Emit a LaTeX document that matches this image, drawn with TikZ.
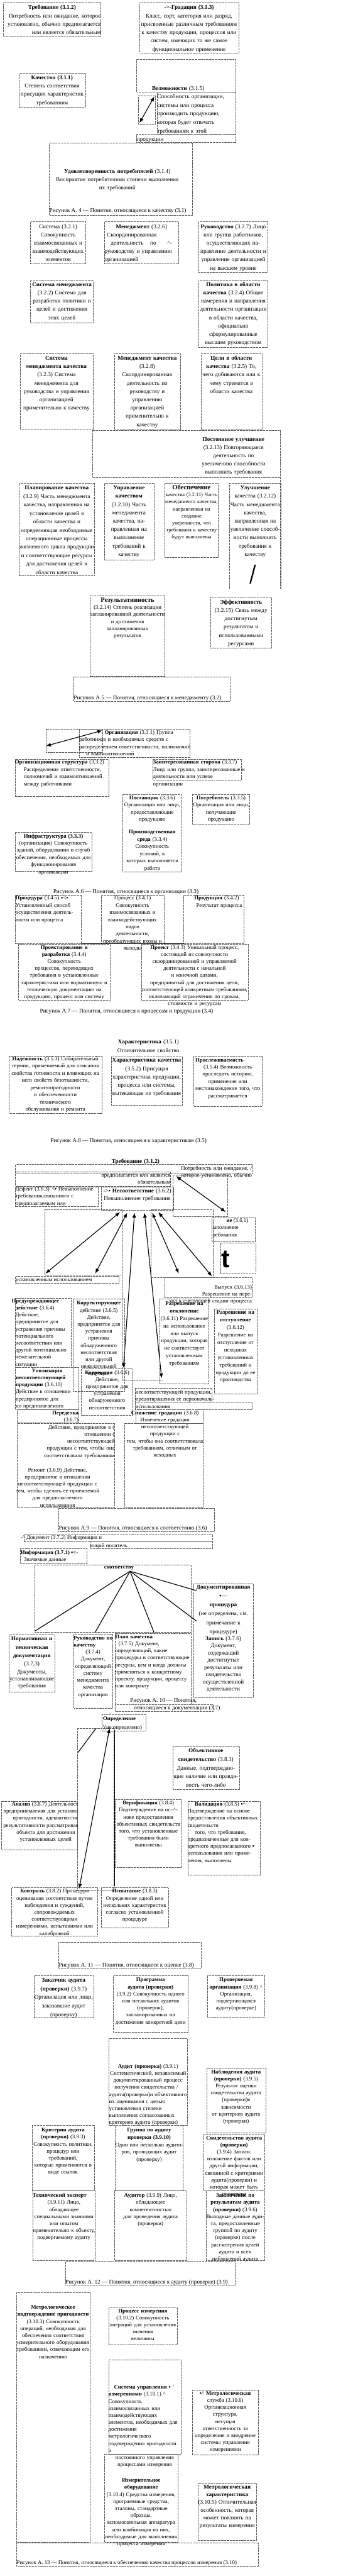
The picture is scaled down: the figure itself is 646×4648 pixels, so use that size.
\documentclass[tikz,border=0pt]{standalone}
\usepackage{fontspec}
\setmainfont{Liberation Serif}
\newfontfamily\glyphfont{Liberation Sans}
\usepackage{tikz}
\usetikzlibrary{arrows.meta}
\newcommand{\fullj}[1]{\makebox[\linewidth][s]{#1}}
\newcommand{\fullc}[1]{\makebox[\linewidth]{#1}}
\newcommand{\fulll}[1]{\makebox[\linewidth][l]{#1}}

\begin{document}
\begin{tikzpicture}[x=1pt, y=-1pt,
  frame/.style={draw=black!65, densely dotted, line width=0.45pt},
  tn/.style={inner sep=0pt, anchor=base, font=\fontsize{10.5}{15}\selectfont},
  tm/.style={inner sep=0pt, anchor=base, font=\fontsize{10}{13}\selectfont},
  td/.style={inner sep=0pt, anchor=base, font=\fontsize{10}{12.7}\selectfont},
  figcap/.style={inner sep=0pt, anchor=base west, font=\fontsize{10.5}{13}\selectfont},
  link/.style={{Latex[length=9pt,width=7pt]}-{Latex[length=9pt,width=7pt]}, line width=1.3pt},
  bar/.style={line width=1.3pt}]
  \useasboundingbox[fill=white](0,0)rectangle(646,4648);

  %--- Figure A.4: quality ---
  \draw[frame](6,5)rectangle(182,65);
  \node[tn, text width=176pt, align=right] (treb) at (94,17)
    {\fullc{\textbf{Требование (3.1.2)}}\\ Потребность или ожидание, которое\\
     установлено, обычно предполагается\\ или является обязательным};
  \draw[frame](252,5)rectangle(431,96);
  \node[tn, text width=179pt, align=center] (grad) at (341.5,17)
    {\textbf{->-Градация (3.1.3)}\\ Класс, сорт, категория или разряд,\\ присвоенные различным требованиям\\
     к качеству продукции, процессов или\\ систем, имеющих то же самое\\ функциональное применение};
  \draw[frame](34,132)rectangle(154,193);
  \node[tn, text width=120pt, align=center] (kach) at (94,143.5)
    {\textbf{Качество (3.1.1)}\\ Степень соответствия\\ присущих характеристик\\ требованиям};
  \draw[frame](247,107)rectangle(426,166);
  \draw[frame](284,166)rectangle(426,242);
  \draw[frame](247,242)rectangle(426,257);
  \draw[frame](250,173)rectangle(280,224);
  \node[tn, text width=150pt, align=center] (vozm) at (322,162.5) {\textbf{Возможности} (3.1.5)};
  \node[tn, text width=142pt, align=left, font=\fontsize{10.5}{15.5}\selectfont] (vozm-txt) at (355,177.5)
    {Способность организации,\\ системы или процесса\\ производить продукцию,\\ которая будет отвечать\\ требованиям к этой};
  \node[tn, anchor=base west] (vozm-end) at (247,254.5) {продукции};
  \coordinate (vz-lo) at (252,222);
  \coordinate (vz-hi) at (279,174);
  \draw[link](vz-lo)--(vz-hi);
  \draw[frame](89,258)rectangle(348,388);
  \node[tn, text width=250pt, align=center] (udov) at (212,312.5)
    {\textbf{Удовлетворенность потребителей} (3.1.4)\\ Восприятие потребителями степени выполнения\\ их требований};
  \node[figcap] (cap-a4) at (89,383.5) {Рисунок А. 4 — Понятия, относящиеся к качеству (3.1)};

  %--- Figure A.5: management ---
  \draw[frame](55,400)rectangle(155,476);
  \node[tn, text width=100pt, align=center] (sist) at (105,412)
    {Система (3.2.1)\\ Совокупность\\ взаимосвязанных и\\ взаимодействующих\\ элементов};
  \draw[frame](189,400)rectangle(322,476);
  \node[tn, text width=133pt, align=center] (men) at (255.5,412)
    {\textbf{Менеджмент} (3.2.6)\\ \fulll{\hspace*{4pt}Скоординированная}\\ деятельность\hspace{12pt}по\hspace{20pt}\textasciicircum-\\
     \fullj{руководству и управлению}\\ \fulll{организацией}};
  \draw[frame](359,400)rectangle(484,492);
  \node[tn, text width=125pt, align=center] (ruk) at (421.5,412)
    {\textbf{Руководство} (3.2.7) Лицо\\ или группа работников,\\ осуществляющих на-\\ правление деятельности и\\
     управление организацией\\ на высшем уровне};
  \draw[frame](55,506)rectangle(168,582);
  \node[tn, text width=113pt, align=center] (sm) at (112,516.5)
    {\textbf{Система менеджмента}\\ (3.2.2) Система для\\ разработки политики и\\ целей и достижения\\ этих целей};
  \draw[frame](359,506)rectangle(484,627);
  \node[tn, text width=125pt, align=center] (polit) at (421.5,516.5)
    {\textbf{Политика в области}\\ \textbf{качества} (3.2.4) Общие\\ намерения и направления\\ деятельности организации\\
     в области качества,\\ официально\\ сформулированные\\ высшим руководством};
  \draw[frame](37,638)rectangle(168,775);
  \node[tn, text width=131pt, align=center] (smk) at (102,649.5)
    {\textbf{Система}\\ \textbf{менеджмента качества}\\ (3.2.3) Система\\ менеджмента для\\ руководства и управления\\
     организацией\\ применительно к качеству};
  \draw[frame](207,638)rectangle(326,775);
  \node[tn, text width=119pt, align=center] (mk) at (266,649.5)
    {\textbf{Менеджмент качества}\\ (3.2.8)\\ Скоординированная\\ деятельность по\\ руководству и\\ управлению\\
     организацией\\ применительно к\\ качеству};
  \draw[frame](363,638)rectangle(474,775);
  \node[tn, text width=111pt, align=center] (celi) at (418,649.5)
    {\textbf{Цели в области}\\ \textbf{качества} (3.2.5) То,\\ чего добиваются или к\\ чему стремятся в\\ области качества};
  \draw[frame](167,776)rectangle(506,861);
  \draw[frame](506,861)--(506,1062);
  \node[tn, text width=125pt, align=center] (post) at (422,795.5)
    {\textbf{Постоянное улучшение}\\ (3.2.13) Повторяющаяся\\ деятельность по\\ увеличению способности\\ выполнить требования};
  \draw[frame](34,872)rectangle(171,1039);
  \node[tn, text width=137pt, align=center, font=\fontsize{10.5}{15.3}\selectfont] (plan) at (102.5,883.5)
    {\textbf{Планирование качества}\\ (3.2.9) Часть менеджмента\\ качества, направленная на\\ установление целей в\\
     области качества и\\ определяющая необходимые\\ операционные процессы\\ жизненного цикла продукции\\
     и соответствующие ресурсы\\ для достижения целей в\\ области качества};
  \draw[frame](189,872)rectangle(278,1010);
  \node[tn, text width=89pt, align=center] (upr) at (233,883.5)
    {\textbf{Управление}\\ \textbf{качеством}\\ (3.2.10) Часть\\ менеджмента\\ качества, на-\\ правленная на\\
     выполнение\\ требований к\\ качеству};
  \draw[frame](298,872)rectangle(394,1006);
  \node[td, text width=96pt, align=center, font=\fontsize{9.5}{12.7}\selectfont] (obesp) at (346,883.5)
    {\textbf{\large Обеспечение}\\ качества (3.2.11) Часть\\ менеджмента качества,\\ направленная на\\ создание\\
     уверенности, что\\ требования к качеству\\ будут выполнены};
  \draw[frame](414,1062)--(414,872)--(508,872)--(508,1062);
  \node[tn, text width=94pt, align=center] (ulu) at (461,883.5)
    {\textbf{Улучшение}\\ качества (3.2.12)\\ Часть менеджмента\\ качества,\\ направленная на\\ увеличение способ-\\
     ности выполнить\\ требования к\\ качеству};
  \draw[line width=2.6pt](461,1019)--(452,1053);
  \draw[frame](163,1075)rectangle(298,1220);
  \node[td, text width=135pt, align=center] (rez) at (230.5,1086.5)
    {\textbf{\large Результативность}\\ (3.2.14) Степень реализации\\ запланированной деятельности\\
     и достижения запланированных\\ результатов};
  \draw[frame](380,1077)rectangle(491,1169);
  \node[tn, text width=111pt, align=center] (eff) at (435.5,1089.5)
    {\textbf{Эффективность}\\ (3.2.15) Связь между\\ достигнутым\\ результатом и\\ использованными\\ ресурсами};
  \draw[frame](133,1221)rectangle(415,1265);
  \node[figcap] (cap-a5) at (133,1262.5) {Рисунок А.5 — Понятия, относящиеся к менеджменту (3.2)};

  %--- Figure A.6: organization ---
  \draw[frame](83,1315)rectangle(185,1357);
  \draw[frame](143,1315)rectangle(343,1367);
  \node[tm, text width=200pt, align=left] (org) at (243,1324.5)
    {\hspace*{46pt}\makebox[154pt][s]{\textbf{Организация} (3.3.1) Группа}\\
     \fullj{работников и необходимых средств с}\\ \fullj{распределением ответственности, полномочий}\\
     \hspace*{13pt}и взаимоотношений};
  \coordinate (org-lo) at (83,1346);
  \coordinate (org-hi) at (185,1318);
  \draw[link](org-lo)--(org-hi);
  \draw[frame](27,1370)rectangle(197,1437);
  \node[tm, text width=168pt, align=left] (orgstr) at (111,1378.5)
    {\fullj{\textbf{Организационная структура} (3.3.2)}\\
     \hspace*{16pt}\makebox[151pt][s]{Распределение ответственности,}\\
     \hspace*{16pt}\makebox[151pt][s]{полномочий и взаимоотношений}\\ \hspace*{16pt}между работниками};
  \draw[frame](276,1370)rectangle(436,1407);
  \node[tm, text width=159pt, align=left] (zain) at (356,1378.5)
    {\fullj{\textbf{Заинтересованная сторона} (3.3.7)}\\ \fullj{Лицо или группа, заинтересованные в}\\
     деятельности или успехе организации};
  \draw[frame](222,1433)rectangle(328,1573);
  \node[tm, text width=106pt, align=center] (post-k) at (275,1442.5)
    {\textbf{Поставщик} (3.3.6)\\ Организация или лицо,\\ предоставляющие\\ продукцию\\[10pt]
     \textbf{Производственная}\\ \textbf{среда} (3.3.4)\\ Совокупность условий, в\\ которых выполняется\\ работа};
  \draw[frame](348,1433)rectangle(451,1487);
  \node[tm, text width=103pt, align=center] (potr) at (399.5,1442.5)
    {\textbf{Потребитель} (3.3.5)\\ Организация или лицо,\\ получающие продукцию};
  \draw[frame](27,1502)rectangle(166,1572);
  \node[tm, text width=139pt, align=center] (infra) at (96.5,1511.5)
    {\textbf{Инфраструктура (3.3.3)}\\ (организация) Совокупность\\ зданий, оборудования и служб\\
     обеспечения, необходимых для\\ функционирования организации};
  \node[figcap] (cap-a6) at (96,1611.5) {Рисунок А.6 — Понятия, относящиеся к организации (3.3)};

  %--- Figure A.7: process and product ---
  \draw[frame](28,1615)rectangle(147,1702);
  \node[tm, text width=119pt, align=left] (proc) at (87.5,1623.5)
    {\fullj{\textbf{Процедура} (3.4.5) ▪<▪}\\ \fullj{Установленный способ}\\ \fullj{осуществления деятель-}\\
     ности или процесса};
  \draw[frame](183,1615)rectangle(296,1702);
  \node[tm, text width=113pt, align=center] (process) at (239.5,1623.5)
    {Процесс (3.4.1)\\ Совокупность\\ взаимосвязанных и\\ взаимодействующих видов\\ деятельности,\\
     преобразующих входы и\\ выходы};
  \draw[frame](332,1615)rectangle(441,1702);
  \draw[line width=0.6pt](147,1702)--(332,1702);
  \node[tm, text width=90pt, align=center] (prod) at (396,1623.5)
    {\fullj{\textbf{Продукция} (3.4.2)}\\ Результат процесса};
  \draw[frame](33,1703)rectangle(199,1804);
  \node[td, text width=166pt, align=center] (proekt-r) at (116,1712.5)
    {\textbf{Проектирование и разработка} (3.4.4)\\ Совокупность процессов, переводящих\\ требования в установленные\\
     характеристики или нормативную и\\ техническую документацию на\\ продукцию, процесс или систему};
  \draw[frame](255,1703)rectangle(448,1804);
  \node[td, text width=193pt, align=center] (proekt) at (351.5,1712.5)
    {\textbf{Проект} (3.4.3) Уникальный процесс,\\ состоящий из совокупности\\ скоординированной и управляемой\\
     деятельности с начальной и конечной датами,\\ предпринятый для достижения цели,\\
     соответствующей конкретным требованиям,\\ включающий ограничения по срокам,\\ стоимости и ресурсам};
  \node[figcap] (cap-a7) at (72,1827.5) {Рисунок А.7 — Понятия, относящиеся к процессам и продукции (3.4)};

  %--- Figure A.8: characteristics ---
  \node[tn, text width=150pt, align=center] (har) at (268,1883.5)
    {\textbf{Характеристика} (3.5.1)\\ Отличительное свойство};
  \draw[frame](16,1905)rectangle(184,2009);
  \node[tm, text width=168pt, align=center] (nad) at (100,1913.5)
    {\textbf{Надежность} (3.5.3) Собирательный\\ термин, применяемый для описания\\ свойства готовности и влияющих на\\
     него свойств безотказности,\\ ремонтопригодности и обеспеченности\\ технического обслуживания и ремонта};
  \draw[frame](201,1907)rectangle(329,1994);
  \node[tn, text width=128pt, align=center] (harkach) at (265,1916.5)
    {\textbf{Характеристика качества}\\ (3.5.2) Присущая\\ характеристика продукции,\\ процесса или системы,\\
     вытекающая из требования};
  \draw[frame](350,1905)rectangle(473,1996);
  \node[tm, text width=123pt, align=center] (prosl) at (411.5,1915.5)
    {\fulll{\hspace*{3pt}\textbf{Прослеживаемость}}\\ (3.5.4) Возможность\\ проследить историю,\\ применение или\\
     местонахождение того, что\\ рассматривается};
  \node[figcap] (cap-a8) at (91,2061.5) {Рисунок А.8 — Понятия, относящиеся к характеристикам (3.5)};

  %--- Figure A.9: conformity ---
  \node[tn, text width=120pt, align=center] (treb2) at (245,2098.5) {\textbf{Требование (3.1.2)}};
  \draw[frame](28,2101)rectangle(456,2118);
  \node[td, text width=250pt, align=right] (treb2-a) at (330,2111.5)
    {Потребность или ожидание, \textit{/} которое установлено, обычно};
  \draw[frame](28,2114)rectangle(308,2140);
  \node[tm, text width=200pt, align=right] (treb2-b) at (208,2123.5)
    {предполагается или является\\ обязательным};
  \draw[frame](312,2120)rectangle(411,2195);
  \coordinate (sootv-a) at (318,2122);
  \coordinate (sootv-b) at (408,2187);
  \draw[link](sootv-a)--(sootv-b);
  \draw[frame](28,2142)rectangle(177,2177);
  \node[tm, text width=149pt, align=left] (def) at (102.5,2148.5)
    {\fullj{Дефект (3.6.3) <▪ Невыполнение}\\ \fullj{требования,связанного с}\\ \fullj{предполагаемым или}};
  \draw[frame](183,2142)rectangle(313,2184);
  \node[tn, text width=130pt, align=center, font=\fontsize{10.5}{14}\selectfont] (nes) at (248,2151.5)
    {->▪ \textbf{Несоответствие} (3.6.2)\\ Невыполнение требования};
  \draw[frame](81,2182)rectangle(220,2300);
  \draw[frame](273,2182)rectangle(385,2305);
  \draw[frame](383,2197)rectangle(461,2240);
  \node[tm, anchor=base west] (sootv-1) at (409,2205.5) {\textbf{ие} (3.6.1)};
  \node[tm, anchor=base west] (sootv-2) at (384,2217.5) {ыполнение};
  \node[tm, anchor=base west] (sootv-3) at (384,2231.5) {ребования};
  \draw[frame](398,2243)rectangle(462,2298);
  \node[anchor=base west, inner sep=0pt, font=\glyphfont\bfseries\fontsize{46}{46}\selectfont] (tglyph) at (400,2287) {t};
  \coordinate (nes-1) at (217,2187);  \coordinate (fan-1) at (82,2298);
  \coordinate (nes-2) at (230,2188);  \coordinate (fan-2) at (172,2298);
  \coordinate (nes-3) at (243,2188);  \coordinate (fan-3) at (223,2468);
  \coordinate (nes-4) at (261,2188);  \coordinate (fan-4) at (292,2487);
  \coordinate (nes-5) at (275,2188);  \coordinate (fan-5) at (323,2298);
  \coordinate (nes-6) at (286,2187);  \coordinate (fan-6) at (383,2303);
  \foreach \k in {1,...,6}
    \draw[link](nes-\k)--(fan-\k);
  \draw[frame](28,2303)rectangle(215,2315);
  \node[tm, anchor=base west] (ustan) at (28,2311.5) {установленным использованием};
  \draw[frame](297,2305)rectangle(455,2341);
  \node[td, text width=158pt, align=right] (vyp) at (376,2325.5)
    {Выпуск (3.6.13) Разрешение на пере-\\ ход к следующей стадии процесса};
  \draw[frame](220,2300)--(220,2490)--(293,2490);
  \draw[frame](28,2342)rectangle(128,2467);
  \node[td, text width=107pt, align=left] (pred) at (74.5,2350.5)
    {\textbf{Предупреждающее}\\ \hspace*{7pt}\textbf{действие} (3.6.4)\\ \hspace*{7pt}Действие,\\ \hspace*{7pt}предпринятое для\\
     \hspace*{7pt}устранения причины\\ \hspace*{7pt}потенциального\\ \hspace*{7pt}несоответствия или\\
     \hspace*{7pt}другой потенциально\\ \hspace*{7pt}нежелательной\\ \hspace*{7pt}ситуации};
  \draw[frame](132,2343)rectangle(225,2510);
  \node[td, text width=93pt, align=center] (korr) at (178.5,2354.5)
    {\textbf{Корректирующее}\\ действие (3.6.5)\\ Действие,\\ предпринятое для\\ устранения\\ причины\\ обнаруженного\\
     несоответствия\\ или другой\\ нежелательной\\ ситуации};
  \draw[frame](28,2467)rectangle(142,2543);
  \node[td, text width=113pt, align=center] (util) at (85,2476.5)
    {\textbf{Утилизация}\\ \fulll{\textbf{несоответствующей}}\\ \fullj{\textbf{продукции} (3.6.10)}\\
     \fullj{Действие в отношении}\\ \fullj{предпринятое для}\\ \fullj{но предполагаемого}};
  \draw[frame](147,2470)rectangle(240,2553);
  \node[td, text width=93pt, align=center] (korrek) at (193.5,2479.5)
    {\textbf{Коррекция} (3.6.6)\\ Действие,\\ предпринятое для\\ устранения\\ обнаруженного\\ несоответствия};
  \draw[frame](289,2343)rectangle(377,2497);
  \node[tn, text width=88pt, align=center, font=\fontsize{10}{13.4}\selectfont] (otkl) at (333,2355.5)
    {\textbf{Разрешение на}\\ \textbf{отклонение}\\ (3.6.11) Разрешение\\ на использование\\ или выпуск\\
     продукции, которая\\ не соответствует\\ установленным\\ требованиям};
  \draw[frame](387,2362)rectangle(464,2515);
  \node[tn, text width=77pt, align=center, font=\fontsize{10}{13.5}\selectfont] (otst) at (425.5,2371.5)
    {\textbf{Разрешение на}\\ \textbf{отступление}\\ (3.6.12)\\ Разрешение на\\ отступление от\\ исходных\\
     установленных\\ требований к\\ продукции до ее\\ производства};
  \draw[frame](244,2505)rectangle(383,2530);
  \draw[frame](244,2530)rectangle(455,2543);
  \node[td, text width=139pt, align=left] (util-b) at (314.5,2515.5)
    {\fullj{несоответствующей продукции,}\\ \fullj{предотвращения ее первоначаль-}\\ использования};
  \draw[frame](31,2543)rectangle(142,2567);
  \node[td, text width=111pt, align=right] (pered) at (86.5,2552.5)
    {\textbf{Переделка}\\ (3.6.7)};
  \draw[frame](31,2568)rectangle(207,2720);
  \node[td, text width=176pt, align=right] (pered-txt) at (119,2578.5)
    {Действие, предпринятое в (\\ отношении (\\ несоответствующей\\ продукции с тем, чтобы она\\
     соответствовала требованиям};
  \node[td, text width=180pt, align=center] (remont) at (104,2655.5)
    {Ремонт (3.6.9) Действие,\\ предпринятое в отношении\\ несоответствующей продукции с\\
     тем, чтобы сделать ее приемлемой\\ для предполагаемого\\ использования};
  \draw[frame](245,2543)rectangle(367,2568);
  \draw[frame](225,2568)rectangle(367,2720);
  \node[td, text width=142pt, align=center] (snizh) at (298,2552.5)
    {\textbf{Снижение градации} (3.6.8)\\ Изменение градации\\ несоответствующей продукции с\\
     тем, чтобы она соответствовала\\ требованиям, отличным от\\ исходных};
  \draw[frame](106,2721)rectangle(387,2763);
  \node[figcap] (cap-a9) at (106,2760.5) {Рисунок А.9 — Понятия, относящиеся к соответствию (3.6)};

  %--- Figure A.10: documentation ---
  \draw[frame](43,2769)rectangle(384,2781);
  \draw[frame](163,2781)rectangle(384,2794);
  \node[tm, anchor=base west] (dok) at (37,2777.5) {-\textasciicircum{} Документ (3.7.2) Информация и};
  \node[tm, anchor=base west] (dok-b) at (163,2791.5) {ющий носитель};
  \draw[frame](37,2794)rectangle(157,2821);
  \node[tm, anchor=base west] (inf) at (37,2804.5) {\textbf{Информация (3.7.1) ▪<-}};
  \node[tm, anchor=base west] (inf-b) at (43,2817.5) {Значимые данные};
  \draw[frame](63,2824)rectangle(345,2945);
  \node[tm, anchor=base west] (sootv-top) at (188,2830.5) {\textbf{соответству}};
  \coordinate (hub) at (235,2835);
  \coordinate (hub-1) at (63,2943);
  \coordinate (hub-2) at (172,2945);
  \coordinate (hub-3) at (278,2945);
  \coordinate (hub-4) at (355,2925);
  \coordinate (hub-5) at (355,2870);
  \foreach \k in {1,...,5}
    \draw[bar](hub)--(hub-\k);
  \draw[frame](16,2950)rectangle(99,3053);
  \node[tn, text width=83pt, align=center] (norm) at (57.5,2960.5)
    {\textbf{Нормативная и}\\ \textbf{техническая}\\ \textbf{документация}\\ (3.7,3) Документы,\\[-3pt]
     устанавливающие\\[-2pt] требования};
  \draw[frame](133,2948)rectangle(203,3082);
  \node[td, text width=70pt, align=center, font=\fontsize{10}{12.75}\selectfont] (rukk) at (168,2958.5)
    {\fullj{\textbf{Руководство по}}\\ \fulll{\textbf{качеству}}\\ (3.7.4)\\ Документ,\\ определяющий\\ систему\\
     менеджмента\\ качества\\ организации};
  \draw[frame](208,2947)rectangle(345,3075);
  \node[td, text width=137pt, align=left] (plank) at (276.5,2956.5)
    {\textbf{План качества}\\ \fullj{\hspace*{6pt}(3.7.5) Документ,}\\ \fullj{определяющий, какие}\\
     \fullj{процедуры и соответствующие}\\ \fullj{ресурсы, кем и когда должны}\\ \fullj{применяться к конкретному}\\
     \fullj{проекту, продукции, процессу}\\ или контракту};
  \node[figcap] (cap-a10) at (235,3071.5) {Рисунок А. 10 — Понятия,};
  \draw[frame](208,3075)rectangle(385,3088);
  \node[figcap] (cap-a10b) at (242,3085) {относящиеся к документации (3.7)};
  \draw[frame](350,2857)rectangle(457,3063);
  \node[tn, text width=107pt, align=center, font=\fontsize{10.5}{16.2}\selectfont] (dokproc) at (403.5,2866.5)
    {\textbf{Документированная} ▪—\\ \textbf{процедура}\\ (не определена, см.\\ примечание к\\ процедуре)};
  \node[tm, text width=107pt, align=center, font=\fontsize{10.5}{13.1}\selectfont] (zap) at (403.5,2959.5)
    {\textbf{Запись} (3.7.6)\\ Документ,\\ содержащий\\ достигнутые\\ результаты или\\ свидетельства\\
     осуществленной\\ деятельности};

  %--- Figure A.11: assessment ---
  \draw[frame](184,3093)rectangle(263,3123);
  \node[tm, anchor=base west] (opr) at (186,3104.5) {\textbf{Определение}};
  \node[tm, anchor=base west] (opr-b) at (185,3119.5) {'(не определено)};
  \draw[frame](140,3118)rectangle(206,3410);
  \coordinate (opr-l1) at (173,3119);  \coordinate (opr-l2) at (141,3162);
  \coordinate (opr-a) at (198,3118);   \coordinate (kon-a) at (143,3408);
  \coordinate (opr-b1) at (207,3122);  \coordinate (isp-b) at (207,3403);
  \draw[bar](opr-l1)--(opr-l2);
  \draw[link](opr-a)--(kon-a);
  \draw[bar](opr-b1)--(isp-b);
  \draw[frame](312,3151)rectangle(432,3229);
  \node[tn, text width=120pt, align=center, font=\fontsize{10.5}{15.4}\selectfont] (obsv) at (372,3162.5)
    {\textbf{Объективное}\\ \textbf{свидетельство} (3.8.1)\\ Данные, подтверждаю-\\ щие наличие или правди-\\ вость чего-либо};
  \draw[frame](3,3250)rectangle(140,3338);
  \begin{scope}
    \clip(0,3245)rectangle(140,3345);
    \node[td, text width=200pt, align=left] (anal) at (106,3258.5)
      {\hspace*{15pt}\textbf{Анализ} (3.8.7) Деятельность,\\ предпринимаемая для установления\\
       \hspace*{17pt}пригодности, адекватности,\\ результативности рассматриваемого\\
       \hspace*{24pt}объекта для достижения\\ \hspace*{30pt}установленных целей};
  \end{scope}
  \draw[frame](208,3247)rectangle(328,3369);
  \node[td, text width=120pt, align=center] (verif) at (268,3256.5)
    {\textbf{Верификация} (3.8.4)\\ Подтверждение на ос--\textasciicircum-\\ нове предоставления\\ объективных свидетельств\\
     того, что установленные\\ требования были\\ выполнены};
  \draw[frame](339,3250)rectangle(470,3383);
  \node[td, text width=131pt, align=left] (valid) at (404.5,3258.5)
    {\hspace*{13pt}\textbf{Валидация} (3.8.5) ▪\textasciicircum\\ Подтверждение на основе\\ предоставления объективных\\
     свидетельств\\ \hspace*{13pt}того, что требования,\\ предназначенные для кон-\\ кретного предполагаемого ▪\\
     использования или приме-\\ нения, выполнены};
  \draw[frame](21,3406)rectangle(176,3493);
  \node[td, text width=155pt, align=center] (kontr) at (98.5,3415.5)
    {\textbf{Контроль} (3.8.2) Процедура\\ оценивания соответствия путем\\ наблюдения и суждений,\\
     сопровождаемых соответствующими\\ измерениями, испытаниями или\\ калибровкой};
  \draw[frame](183,3406)rectangle(304,3478);
  \node[td, text width=121pt, align=center] (ispyt) at (243.5,3415.5)
    {\textbf{Испытание} (3.8.3)\\ Определение одной или\\ нескольких характеристик\\ согласно установленной\\ процедуре};
  \draw[frame](106,3504)rectangle(363,3551);
  \node[figcap] (cap-a11) at (106,3548.5) {Рисунок А. 11 — Понятия, относящиеся к оценке (3.8)};

  %--- Figure A.12: audit ---
  \draw[frame](61,3565)rectangle(169,3641);
  \node[tn, text width=108pt, align=center, font=\fontsize{10.5}{15.4}\selectfont] (zakaz) at (115,3576.5)
    {\textbf{Заказчик аудита}\\ \textbf{(проверки)} (3.9.7)\\ Организация или лицо,\\ заказавшие аудит\\ (проверку)};
  \draw[frame](205,3565)rectangle(339,3667);
  \node[td, text width=134pt, align=center] (progr) at (272,3575.5)
    {\textbf{Программа аудита (проверки)}\\ (3.9.2) Совокупность одного\\ или нескольких аудитов\\
     (проверок), запланированных на\\ достижение конкретной цели};
  \draw[frame](375,3565)rectangle(478,3639);
  \node[td, text width=103pt, align=center] (proverorg) at (426.5,3575.5)
    {\textbf{Проверяемая}\\ \textbf{организация} (3.9.8) \textasciicircum\\ Организация,\\ подвергающаяся\\ аудиту(проверке)};
  \draw[frame](197,3678)rectangle(338,3835);
  \node[td, text width=141pt, align=center] (audit) at (267.5,3731.5)
    {\textbf{Аудит (проверка)} (3.9.1)\\ Систематический, независимый\\ документированный процесс\\
     \fullj{\hspace*{10pt}получения свидетельства /}\\ \fullj{аудита(проверки)и объективного}\\
     \fullj{их оценивания с целью}\\ \fullj{установления степени}\\ \fullj{выполнения согласованных}\\
     \fulll{критериев аудита (проверки)}};
  \draw[frame](373,3731)rectangle(480,3848);
  \node[td, text width=107pt, align=center] (nabl) at (426.5,3741.5)
    {\textbf{Наблюдения аудита}\\ \textbf{(проверки)} (3.9.5)\\ Результат оценки\\ свидетельства аудита\\
     (проверки)в зависимости\\ от критериев аудита\\ (проверки)};
  \draw[frame](58,3835)rectangle(170,3953);
  \node[td, text width=112pt, align=center] (krit) at (114,3846.5)
    {\textbf{Критерии аудита}\\ \textbf{(проверки)} (3.9.3)\\ Совокупность политики,\\ процедур или требований,\\
     которые применяются в\\ виде ссылок};
  \draw[frame](208,3835)rectangle(331,3953);
  \node[td, text width=123pt, align=center, font=\fontsize{10}{13.3}\selectfont] (grup) at (269.5,3846.5)
    {\textbf{Группа по аудиту}\\ \textbf{проверки (3.9.10)}\\ Один или несколько аудито-\\ ров, проводящих аудит\\ (проверку)};
  \draw[frame](368,3852)rectangle(478,3953);
  \node[td, text width=110pt, align=center] (svid) at (423,3860.5)
    {\textbf{Свидетельство аудита}\\ \textbf{(проверки)} (3.9.4) Записи,\\ изложение фактов или\\ другой информации,\\
     связанной с критериями\\ аудита(проверки) и\\ которая может быть\\ проверена};
  \draw[frame](59,3953)rectangle(172,4079);
  \node[td, text width=113pt, align=center] (tehn) at (115.5,3964.5)
    {\fulll{\textbf{Технический эксперт}}\\ (3.9.11) Лицо, обладающее\\ специальными знаниями\\ или опытом\\
     применительно к объекту,\\ подвергаемому аудиту};
  \draw[frame](207,3953)rectangle(337,4079);
  \node[td, text width=130pt, align=center] (auditor) at (272,3964.5)
    {\textbf{Аудитор} (3.9.9) Лицо,\\ обладающее компетентностью\\ для проведения аудита\\ (проверки)};
  \draw[frame](372,3953)rectangle(478,4079);
  \node[td, text width=106pt, align=center] (zakl) at (425,3964.5)
    {\textbf{Заключение по}\\ \textbf{результатам аудита}\\ \textbf{(проверки)} (3.9.6)\\ Выходные данные ауди-\\
     та, предоставленные\\ группой по аудиту\\ (проверке) после\\ рассмотрения целей\\ аудита и всех\\ наблюдений аудита};
  \draw[frame](118,4080)rectangle(425,4123);
  \node[figcap] (cap-a12) at (118,4120.5) {Рисунок А. 12 — Понятия, относящиеся к аудиту (проверке) (3.9)};

  %--- Figure A.13: measurement ---
  \draw[frame](30,4136)rectangle(162,4587);
  \node[td, text width=132pt, align=center] (metpod) at (96,4166.5)
    {\textbf{Метрологическое}\\ \textbf{подтверждение пригодности}\\ (3.10.3) Совокупность\\ операций, необходимая для\\
     обеспечения соответствия\\ измерительного оборудования\\ требованиям, отвечающим его\\ назначению};
  \draw[frame](196,4163)rectangle(320,4231);
  \node[td, text width=124pt, align=center] (procizm) at (258,4172.5)
    {\textbf{Процесс измерения}\\ (3.10.2) Совокупность\\ операций для установления\\ значения\\ величины};
  \draw[frame](196,4258)rectangle(327,4428);
  \node[td, text width=131pt, align=left] (sisupr) at (261.5,4310.5)
    {\fullj{\hspace*{10pt}\textbf{Система управления} ▪ `}\\ \fullj{\textbf{измерениями} (3.10.1) \textasciicircum}\\
     Совокупность\\ \fullj{взаимосвязанных или}\\ взаимодействующих\\ \fullj{элементов, необходимых для}\\
     достижения метрологического\\ подтверждения пригодности и\\ \fullc{постоянного управления}\\ \fullc{процессами измерения}};
  \draw[frame](347,4312)rectangle(467,4429);
  \node[td, text width=120pt, align=center] (metsl) at (407,4321.5)
    {▪\textasciicircum{} \textbf{Метрологическая}\\ служба (3.10.6)\\ Организационная структура,\\ несущая ответственность за\\
     определение и внедрение\\ системы управления\\ измерениями};
  \draw[frame](189,4428)rectangle(321,4587);
  \node[td, text width=132pt, align=center] (izmob) at (255,4478.5)
    {\textbf{Измерительное оборудование}\\ (3.10.4) Средства измерения,\\ программные средства,\\
     эталоны, стандартные образцы,\\ вспомогательная аппаратура\\ или комбинация из них,\\
     необходимые для выполнения\\ процесса измерения};
  \draw[frame](358,4480)rectangle(463,4584);
  \node[tn, text width=105pt, align=center, font=\fontsize{10.5}{14}\selectfont] (methar) at (410.5,4490.5)
    {\textbf{Метрологическая}\\ \textbf{характеристика}\\ (3.10.5) Отличительная\\ особенность, которая\\
     может повлиять на\\ результаты измерения};
  \draw[frame](30,4588)rectangle(467,4630);
  \node[figcap, font=\fontsize{10}{13}\selectfont] (cap-a13) at (30,4627.5)
    {Рисунок А. 13 — Понятия, относящиеся к обеспечению качества процессов измерения (3.10)};
\end{tikzpicture}
\end{document}
